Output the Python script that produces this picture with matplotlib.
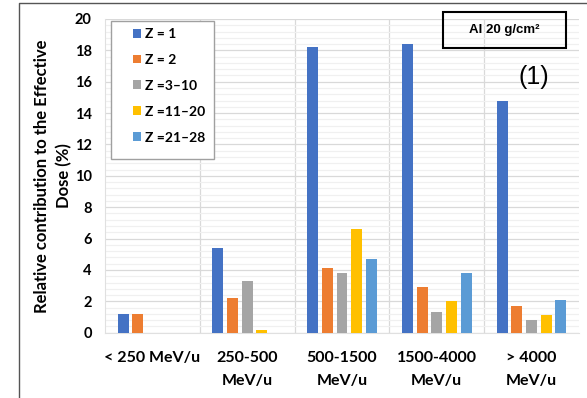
import numpy as np
import matplotlib.pyplot as plt
from matplotlib.lines import Line2D
from matplotlib.patches import Rectangle
from matplotlib.ticker import MultipleLocator

plt.rcParams['font.family'] = ['Lato', 'DejaVu Sans']

# Energy bins and contributions (%) of each charge group
categories = ['< 250 MeV/u', '250-500\nMeV/u', '500-1500\nMeV/u',
              '1500-4000\nMeV/u', '> 4000\nMeV/u']
z_labels = ['Z = 1', 'Z = 2', 'Z =3\u201310', 'Z =11\u201320', 'Z =21\u201328']
z1 = [1.2, 5.4, 18.2, 18.4, 14.8]
z2 = [1.2, 2.2, 4.1, 2.9, 1.7]
z3_10 = [0.0, 3.3, 3.8, 1.3, 0.8]
z11_20 = [0.0, 0.2, 6.6, 2.0, 1.1]
z21_28 = [0.0, 0.0, 4.7, 3.8, 2.1]

series = [z1, z2, z3_10, z11_20, z21_28]
colors = ['#4472C4', '#ED7D31', '#A5A5A5', '#FFC000', '#5B9BD5']

W, H = 587, 398
fig = plt.figure(figsize=(W / 100, H / 100), dpi=100)
ax = fig.add_axes([105 / W, 1 - 332.7 / H, 474 / W, 313.7 / H])

x = np.arange(len(categories))
pitch = 0.155
width = 0.116
for i, (vals, c, lab) in enumerate(zip(series, colors, z_labels)):
    ax.bar(x + (i - 2) * pitch, vals, width, color=c, label=lab, zorder=3)

ax.set_xlim(-0.5, 4.5)
ax.set_ylim(0, 20)
ax.yaxis.set_major_locator(MultipleLocator(2))
ax.yaxis.set_minor_locator(MultipleLocator(0.4))
ax.grid(axis='y', which='major', color='#d9d9d9', lw=0.9, zorder=0)
ax.grid(axis='y', which='minor', color='#f0f0f0', lw=0.9, zorder=0)
for b in np.arange(0.5, 4.5, 1.0):
    ax.axvline(b, color='#d9d9d9', lw=0.9, zorder=0)

for s in ['top', 'right']:
    ax.spines[s].set_visible(False)
for s in ['left', 'bottom']:
    ax.spines[s].set_color('#e0e0e0')

ax.set_xticks(x)
ax.set_xticklabels(categories, fontsize=11.5, fontweight='bold', linespacing=1.85)
ax.tick_params(axis='x', length=0, pad=13)
ax.tick_params(axis='y', which='both', length=0, pad=9.5, labelsize=10.5)
for t in ax.get_yticklabels():
    t.set_fontweight('bold')

ax.set_ylabel('Relative contribution to the Effective\nDose (%)',
              fontsize=12, fontweight='bold', linespacing=1.4)
ax.yaxis.set_label_coords((72 - 105) / 474, 0.5)

# legend box drawn as a patch, entries on top without frame
ax.add_patch(Rectangle((111 / W, 1 - 159 / H), 103 / W, 138 / H,
                       transform=fig.transFigure, facecolor='white',
                       edgecolor='#a0a0a0', lw=1.0, zorder=4, clip_on=False))
leg = ax.legend(loc='upper left', bbox_to_anchor=(133 / W, 1 - 28 / H),
                bbox_transform=fig.transFigure, prop={'weight': 'bold', 'size': 10},
                handlelength=0.6, handleheight=0.6, handletextpad=0.25,
                labelspacing=1.0, borderpad=0, borderaxespad=0, frameon=False)
leg.set_zorder(5)

# material label box and panel number
fig.add_artist(Rectangle((443 / W, 1 - 48 / H), 123 / W, 36 / H,
                         transform=fig.transFigure, fill=False,
                         edgecolor='black', lw=1.5))
fig.text(504.5 / W, 1 - 30 / H, 'Al 20 g/cm\u00b2', ha='center', va='center',
         fontsize=9.5, fontweight='bold', family=['Liberation Sans', 'DejaVu Sans'])
fig.text(533.5 / W, 1 - 77 / H, '(1)', ha='center', va='center',
         fontsize=18, family=['Liberation Sans', 'DejaVu Sans'])

# outer frame (top and left edges)
fig.add_artist(Line2D([19 / W, 19 / W, 1], [0, 1 - 3 / H, 1 - 3 / H],
                      transform=fig.transFigure, color='#555555', lw=1.0))

fig.savefig('out.png', dpi=100)
